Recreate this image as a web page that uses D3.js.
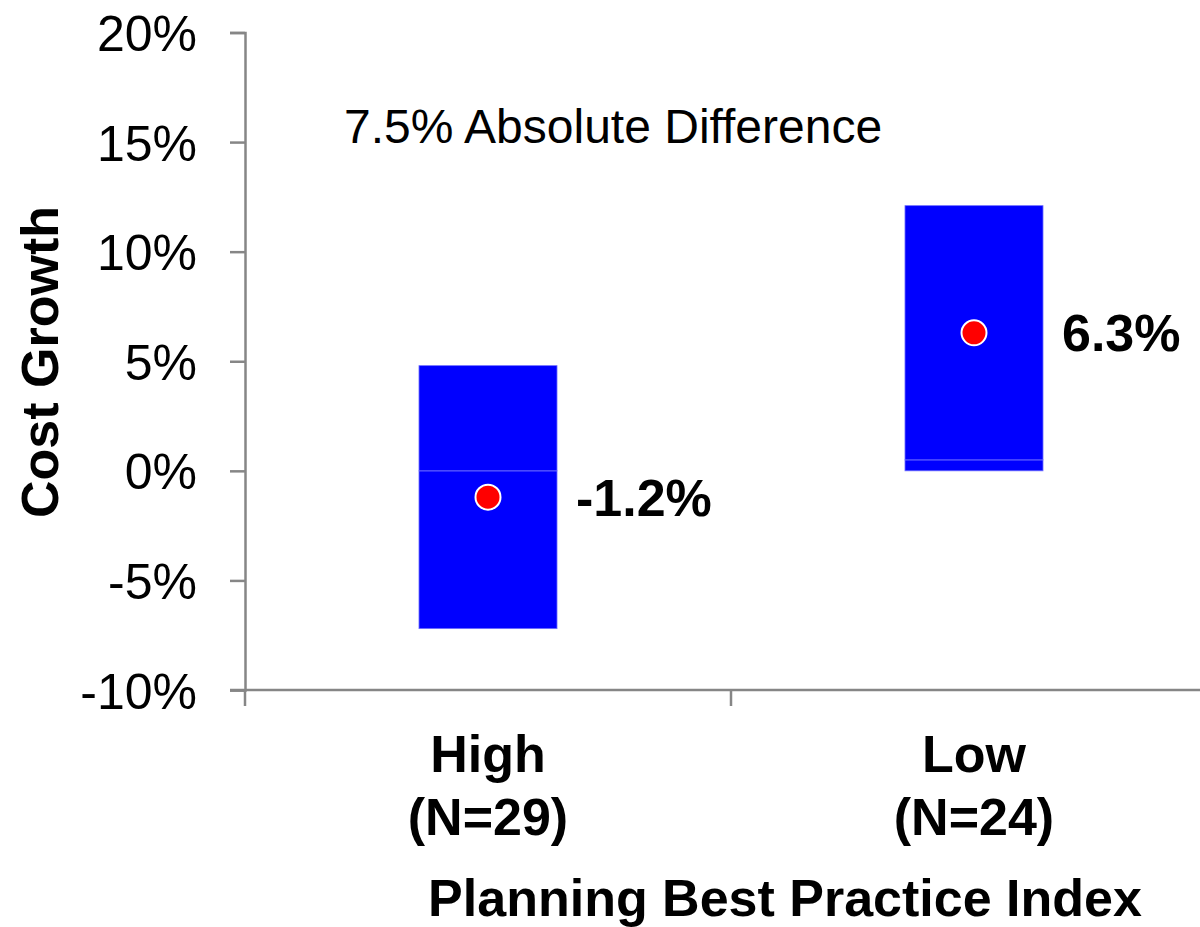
<!DOCTYPE html>
<html>
<head>
<meta charset="utf-8">
<script src="https://cdn.jsdelivr.net/npm/d3@7"></script>
<style>
  html, body { margin: 0; padding: 0; background: #fff; }
  svg { display: block; font-family: "Liberation Sans", Arial, sans-serif; }
</style>
</head>
<body>
<svg id="chart" width="1200" height="927"></svg>
<script>
// Planning best practice groups and their cost growth ranges (percent)
const categories = ["High", "Low"];
const sampleSizes = ["(N=29)", "(N=24)"];
const rangeLow = [-7.2, 0.0];
const rangeMid = [0.0, 0.5];
const rangeHigh = [4.8, 12.1];
const meanGrowth = [-1.2, 6.3];
const meanLabels = ["-1.2%", "6.3%"];
const yTicks = [-10, -5, 0, 5, 10, 15, 20];
const annotation = "7.5% Absolute Difference";
const yTitle = "Cost Growth";
const xTitle = "Planning Best Practice Index";

const svg = d3.select("#chart");
const axisColor = "#868686";

const x = d3.scaleBand().domain(categories).range([245, 1217]);
const y = d3.scaleLinear().domain([-10, 20]).range([690, 32.5]);

// Y axis
const yAxis = svg.append("g").attr("transform", "translate(245,0)")
  .call(d3.axisLeft(y).tickValues(yTicks).tickSize(15).tickPadding(33)
    .tickFormat(d => d + "%"));
yAxis.select(".domain").attr("stroke", axisColor).attr("stroke-width", 2.5);
yAxis.selectAll(".tick line").attr("stroke", axisColor).attr("stroke-width", 2.5);
yAxis.selectAll(".tick text")
  .attr("font-size", 50).attr("fill", "#000")
  .attr("font-family", "Liberation Sans, Arial, sans-serif")
  .attr("dy", "0.36em");

// X axis with tick marks at band boundaries
const xAxisG = svg.append("g").attr("transform", `translate(0,${y(-10)})`);
xAxisG.append("line")
  .attr("x1", 230).attr("x2", 1217)
  .attr("stroke", axisColor).attr("stroke-width", 2.5);
const boundaries = categories.map(c => x(c)).concat([x.range()[1]]);
xAxisG.selectAll("line.tk").data(boundaries).join("line").attr("class", "tk")
  .attr("x1", d => d).attr("x2", d => d)
  .attr("y1", 0).attr("y2", 16)
  .attr("stroke", axisColor).attr("stroke-width", 2.5);

// Range boxes (two stacked segments per group)
const boxW = x.bandwidth() * 0.284;
const rows = categories.map((c, i) => ({
  c, lo: rangeLow[i], mid: rangeMid[i], hi: rangeHigh[i],
  mean: meanGrowth[i], label: meanLabels[i], n: sampleSizes[i]
}));

const boxes = svg.append("g");
rows.forEach(r => {
  const cx = x(r.c) + x.bandwidth() / 2;
  [[r.lo, r.mid], [r.mid, r.hi]].forEach(([a, b]) => {
    boxes.append("rect")
      .attr("x", cx - boxW / 2)
      .attr("y", y(b))
      .attr("width", boxW)
      .attr("height", y(a) - y(b))
      .attr("fill", "#0000ff")
      .attr("stroke", "#7070ff")
      .attr("stroke-width", 0.8);
  });
});

// Mean markers and value labels
const marks = svg.append("g");
marks.selectAll("circle").data(rows).join("circle")
  .attr("cx", d => x(d.c) + x.bandwidth() / 2)
  .attr("cy", d => y(d.mean))
  .attr("r", 12.5)
  .attr("fill", "#ff0000")
  .attr("stroke", "#fff")
  .attr("stroke-width", 2);

marks.selectAll("text").data(rows).join("text")
  .attr("x", d => x(d.c) + x.bandwidth() / 2 + boxW / 2 + 19)
  .attr("y", d => y(d.mean))
  .attr("dy", "0.36em")
  .attr("font-size", 52).attr("font-weight", "bold")
  .text(d => d.label);

// Category labels
const cat = svg.append("g");
rows.forEach(r => {
  const cx = x(r.c) + x.bandwidth() / 2;
  const t = cat.append("text")
    .attr("text-anchor", "middle")
    .attr("font-size", 52).attr("font-weight", "bold");
  t.append("tspan").attr("x", cx).attr("y", 772).text(r.c);
  t.append("tspan").attr("x", cx).attr("y", 835).text(r.n);
});

// Annotation
svg.append("text")
  .attr("x", 344).attr("y", 143)
  .attr("font-size", 48)
  .text(annotation);

// Axis titles
svg.append("text")
  .attr("transform", "translate(58,362) rotate(-90)")
  .attr("text-anchor", "middle")
  .attr("font-size", 52).attr("font-weight", "bold")
  .text(yTitle);

svg.append("text")
  .attr("x", 785).attr("y", 916)
  .attr("text-anchor", "middle")
  .attr("font-size", 52).attr("font-weight", "bold")
  .text(xTitle);
</script>
</body>
</html>
